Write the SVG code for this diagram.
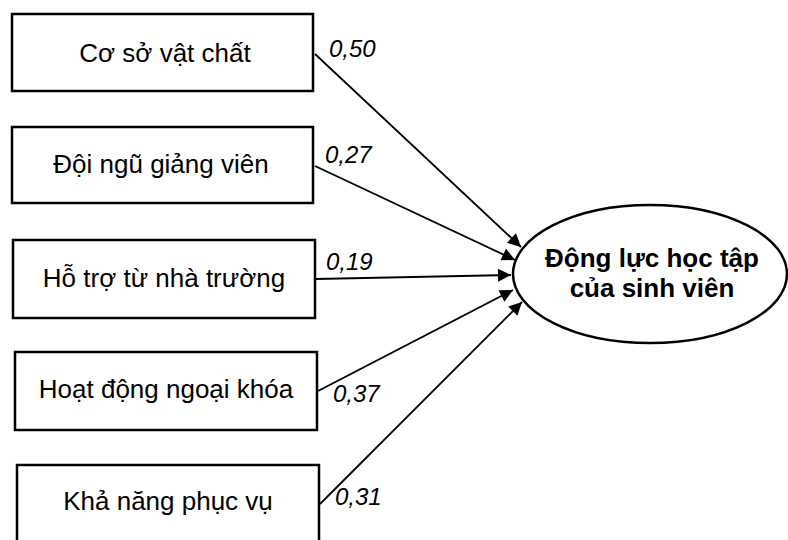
<svg xmlns="http://www.w3.org/2000/svg" width="788" height="540" viewBox="0 0 788 540">
<style>
.box{fill:#fff;stroke:#000;stroke-width:2.5}
.bt{font-family:"Liberation Sans",Arial,sans-serif;font-size:26px;fill:#000;text-anchor:middle}
.lb{font-family:"Liberation Sans",Arial,sans-serif;font-size:24px;font-style:italic;fill:#000}
.ct{font-family:"Liberation Sans",Arial,sans-serif;font-size:26px;font-weight:bold;fill:#000;text-anchor:middle}
.ln{stroke:#000;stroke-width:1.8;fill:none;marker-end:url(#ah)}
</style>
<defs>
<marker id="ah" viewBox="0 0 10 10" refX="10" refY="5" markerWidth="21" markerHeight="13" markerUnits="userSpaceOnUse" orient="auto">
<path d="M0,0 L10,5 L0,10 z" fill="#000"/>
</marker>
</defs>
<rect width="788" height="540" fill="#fff"/>
<g id="connectors">
<line class="ln" x1="315" y1="54" x2="521" y2="247"/>
<line class="ln" x1="315" y1="166" x2="515" y2="260"/>
<line class="ln" x1="316" y1="279" x2="511" y2="275"/>
<line class="ln" x1="318" y1="391" x2="513" y2="290"/>
<line class="ln" x1="320" y1="504" x2="522" y2="302"/>
<text class="lb" x="329" y="57">0,50</text>
<text class="lb" x="325" y="163">0,27</text>
<text class="lb" x="326" y="270">0,19</text>
<text class="lb" x="333" y="402">0,37</text>
<text class="lb" x="335" y="505">0,31</text>
</g>
<g id="n1"><rect class="box" x="12" y="14" width="301" height="77"/><text class="bt" x="165" y="62">Cơ sở vật chất</text></g>
<g id="n2"><rect class="box" x="12" y="127" width="301" height="76"/><text class="bt" x="161" y="173">Đội ngũ giảng viên</text></g>
<g id="n3"><rect class="box" x="13" y="240" width="302" height="78"/><text class="bt" x="164" y="287">Hỗ trợ từ nhà trường</text></g>
<g id="n4"><rect class="box" x="15" y="352" width="302" height="78"/><text class="bt" x="166" y="398">Hoạt động ngoại khóa</text></g>
<g id="n5"><rect class="box" x="17" y="465" width="302" height="80"/><text class="bt" x="168" y="510">Khả năng phục vụ</text></g>
<g id="target"><ellipse cx="650" cy="274" rx="137" ry="69" fill="#fff" stroke="#000" stroke-width="2.5"/>
<text class="ct" x="652" y="267">Động lực học tập</text>
<text class="ct" x="652" y="297">của sinh viên</text></g>
</svg>
